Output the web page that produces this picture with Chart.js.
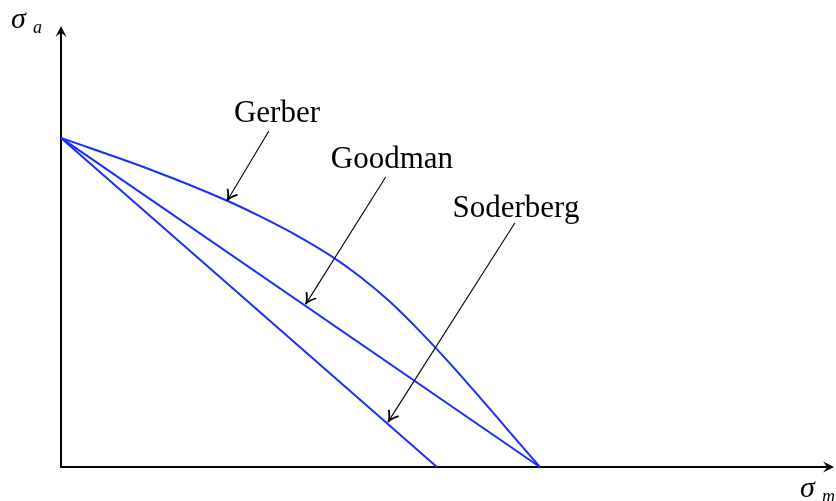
<!DOCTYPE html>
<html>
<head>
<meta charset="utf-8">
<script src="https://cdn.jsdelivr.net/npm/chart.js@4.4.1/dist/chart.umd.min.js"></script>
<style>
  html, body { margin: 0; padding: 0; background: #fff; }
  #wrap { width: 836px; height: 501px; }
</style>
</head>
<body>
<div id="wrap"><canvas id="myChart"></canvas></div>
<script>
// sigma_m normalised by Sut, sigma_a normalised by Se
const gerberX = [0, 0.186, 0.347, 0.415, 0.499, 0.562, 0.624, 0.687, 0.749, 0.812, 0.875, 0.937, 1];
const gerberY = [1, 0.904, 0.809, 0.762, 0.698, 0.643, 0.579, 0.502, 0.413, 0.315, 0.211, 0.106, 0];
const goodmanX = [0, 1];
const goodmanY = [1, 0];
const soderbergX = [0, 0.785];
const soderbergY = [1, 0];

const xMax = 1.612;
const yMax = 1.337;

// callouts: label text, label centre/baseline, arrow tail and tip
const labelText = ['Gerber', 'Goodman', 'Soderberg'];
const labelX = [0.451, 0.691, 0.950];
const labelY = [1.049, 0.909, 0.760];
const arrowFromX = [0.434, 0.678, 0.948];
const arrowFromY = [1.021, 0.881, 0.742];
const arrowToX = [0.347, 0.511, 0.683];
const arrowToY = [0.809, 0.495, 0.137];

const blue = 'rgb(25,45,255)';

function toPoints(xs, ys) {
    return xs.map((x, i) => ({ x: x, y: ys[i] }));
}

// open barbed head, like tikz "->"
function arrowHead(ctx, x1, y1, x2, y2, len, spread) {
    const a = Math.atan2(y2 - y1, x2 - x1);
    const cx = x2 - len * 0.3 * Math.cos(a), cy = y2 - len * 0.3 * Math.sin(a);
    ctx.beginPath();
    ctx.moveTo(x2 - len * Math.cos(a - spread), y2 - len * Math.sin(a - spread));
    ctx.quadraticCurveTo(cx, cy, x2, y2);
    ctx.quadraticCurveTo(cx, cy, x2 - len * Math.cos(a + spread), y2 - len * Math.sin(a + spread));
    ctx.stroke();
}

// filled stealth head for the axes
function stealthHead(ctx, x1, y1, x2, y2, len, half) {
    const a = Math.atan2(y2 - y1, x2 - x1);
    const ux = Math.cos(a), uy = Math.sin(a);
    const nx = -uy, ny = ux;
    ctx.beginPath();
    ctx.moveTo(x2, y2);
    ctx.lineTo(x2 - ux * len + nx * half, y2 - uy * len + ny * half);
    ctx.lineTo(x2 - ux * len * 0.6, y2 - uy * len * 0.6);
    ctx.lineTo(x2 - ux * len - nx * half, y2 - uy * len - ny * half);
    ctx.closePath();
    ctx.fill();
}

const axesPlugin = {
    id: 'axesPlugin',
    beforeDatasetsDraw(chart) {
        const ctx = chart.ctx;
        const xs = chart.scales.x, ys = chart.scales.y;
        const x0 = xs.getPixelForValue(0), y0 = ys.getPixelForValue(0);
        const xEnd = xs.getPixelForValue(xMax), yEnd = ys.getPixelForValue(yMax);
        ctx.save();
        ctx.strokeStyle = '#000';
        ctx.fillStyle = '#000';
        ctx.lineWidth = 2;
        ctx.beginPath();
        ctx.moveTo(x0, y0);
        ctx.lineTo(x0, yEnd + 5);
        ctx.moveTo(x0 - 1, y0);
        ctx.lineTo(xEnd - 5, y0);
        ctx.stroke();
        stealthHead(ctx, x0, y0, x0, yEnd - 1, 11, 5.5);
        stealthHead(ctx, x0, y0, xEnd + 1, y0, 11, 5.5);
        ctx.restore();
    },
    afterDatasetsDraw(chart) {
        const ctx = chart.ctx;
        const xs = chart.scales.x, ys = chart.scales.y;
        const area = chart.chartArea;
        ctx.save();
        ctx.strokeStyle = '#000';
        ctx.fillStyle = '#000';
        for (let i = 0; i < labelText.length; i++) {
            const fx = xs.getPixelForValue(arrowFromX[i]), fy = ys.getPixelForValue(arrowFromY[i]);
            const tx = xs.getPixelForValue(arrowToX[i]), ty = ys.getPixelForValue(arrowToY[i]);
            ctx.lineWidth = 1.1;
            ctx.beginPath();
            ctx.moveTo(fx, fy);
            ctx.lineTo(tx, ty);
            ctx.stroke();
            ctx.lineWidth = 1.8;
            arrowHead(ctx, fx, fy, tx, ty, 12, 0.5);

            ctx.font = '31px "Liberation Serif", serif';
            ctx.textAlign = 'center';
            ctx.textBaseline = 'alphabetic';
            ctx.fillText(labelText[i], xs.getPixelForValue(labelX[i]), ys.getPixelForValue(labelY[i]));
        }

        // axis names
        ctx.textAlign = 'left';
        ctx.font = 'italic 30px "Liberation Serif", serif';
        ctx.fillText('σ', area.left - 50, area.top + 1);
        ctx.font = 'italic 18px "Liberation Serif", serif';
        ctx.fillText('a', area.left - 28, area.top + 6);
        ctx.font = 'italic 30px "Liberation Serif", serif';
        ctx.fillText('σ', area.right - 33, area.bottom + 30);
        ctx.font = 'italic 18px "Liberation Serif", serif';
        ctx.fillText('m', area.right - 11, area.bottom + 35);
        ctx.restore();
    }
};

const ctx = document.getElementById('myChart');

new Chart(ctx, {
    type: 'line',
    data: {
        datasets: [
            { label: 'Gerber', data: toPoints(gerberX, gerberY), cubicInterpolationMode: 'monotone' },
            { label: 'Goodman', data: toPoints(goodmanX, goodmanY) },
            { label: 'Soderberg', data: toPoints(soderbergX, soderbergY) }
        ].map(d => Object.assign(d, {
            borderColor: blue,
            borderWidth: 2,
            pointRadius: 0,
            fill: false,
            clip: false
        }))
    },
    options: {
        animation: false,
        responsive: true,
        maintainAspectRatio: false,
        events: [],
        layout: { padding: { left: 61, top: 27, right: 3, bottom: 34 } },
        plugins: {
            legend: { display: false },
            tooltip: { enabled: false }
        },
        scales: {
            x: { type: 'linear', min: 0, max: xMax, display: false },
            y: { type: 'linear', min: 0, max: yMax, display: false }
        }
    },
    plugins: [axesPlugin]
});
</script>
</body>
</html>
